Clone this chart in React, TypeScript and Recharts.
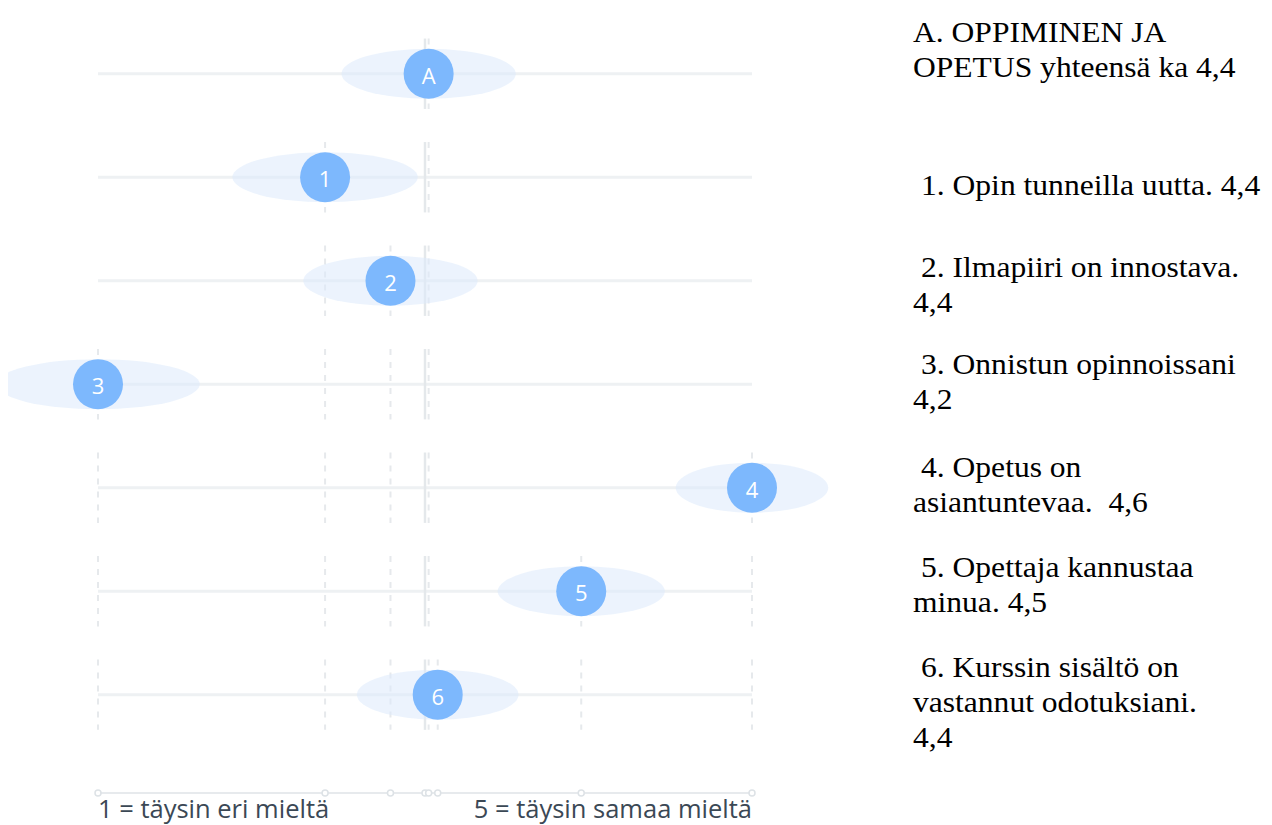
import { ScatterChart, Scatter, XAxis, YAxis, ReferenceLine } from 'recharts';

// Items from top to bottom: overall A, then statements 1–6
const itemLabels = ['A', '1', '2', '3', '4', '5', '6'];
const itemScores = [4.422, 4.365, 4.401, 4.24, 4.6, 4.506, 4.427];
const itemSpreads = [0.048, 0.051, 0.048, 0.056, 0.042, 0.046, 0.0445];
const overallMean = 4.42;
const scaleMin = 4.24;
const scaleMax = 4.6;
const minLabel = '1 = täysin eri mieltä';
const maxLabel = '5 = täysin samaa mieltä';

const descriptions = [
  ['A. OPPIMINEN JA', 'OPETUS yhteensä ka 4,4'],
  ['1. Opin tunneilla uutta. 4,4'],
  ['2. Ilmapiiri on innostava.', '4,4'],
  ['3. Onnistun opinnoissani', '4,2'],
  ['4. Opetus on', 'asiantuntevaa.  4,6'],
  ['5. Opettaja kannustaa', 'minua. 4,5'],
  ['6. Kurssin sisältö on', 'vastannut odotuksiani.', '4,4'],
];

const CHART_W = 860;
const CHART_H = 817;
const MARGIN = { top: 14, right: 116, bottom: 2, left: 90 };
const PX_PER_UNIT = (CHART_W - MARGIN.left - MARGIN.right) / (scaleMax - scaleMin);
const ROW_HALF = 0.34;

const points = itemLabels.map((label, i) => ({
  x: itemScores[i],
  y: i,
  label,
  spread: itemSpreads[i],
}));

const axisTicks = [...itemScores, overallMean].sort((a, b) => a - b);

// first-line baselines of the description blocks
const blockTops = [34, 187, 269, 366, 469, 569, 669];
const LINE_H = 35;

const Marker = (props: any) => {
  const { cx, cy, payload } = props;
  return (
    <g>
      <ellipse cx={cx} cy={cy} rx={payload.spread * PX_PER_UNIT} ry={25} fill="#dce9fb" fillOpacity={0.55} />
      <circle cx={cx} cy={cy} r={25} fill="#7db8fd" />
      <text
        x={cx}
        y={cy + 1}
        textAnchor="middle"
        dominantBaseline="central"
        fill="#ffffff"
        fontSize={22}
        fontFamily="'Open Sans', sans-serif"
      >
        {payload.label}
      </text>
    </g>
  );
};

const AxisTick = (props: any) => {
  const { x, y, payload } = props;
  const v = payload.value;
  const textStyle = { fontSize: 25.5, fontFamily: "'Open Sans', sans-serif", fill: '#3b4855' };
  return (
    <g>
      <circle cx={x} cy={y} r={3} fill="#ffffff" stroke="#dde2e6" strokeWidth={1.5} />
      {v === scaleMin && (
        <text x={x} y={y + 25} textAnchor="start" {...textStyle}>
          {minLabel}
        </text>
      )}
      {v === scaleMax && (
        <text x={x} y={y + 25} textAnchor="end" {...textStyle}>
          {maxLabel}
        </text>
      )}
    </g>
  );
};

export default function App() {
  return (
    <div style={{ position: 'relative', width: 1264, height: 817 }}>
      <ScatterChart width={CHART_W} height={CHART_H} margin={MARGIN}>
        <XAxis
          type="number"
          dataKey="x"
          domain={[scaleMin, scaleMax]}
          ticks={axisTicks}
          interval={0}
          tick={<AxisTick />}
          tickLine={false}
          tickSize={0}
          tickMargin={0}
          height={30}
          axisLine={{ stroke: '#e7eaed', strokeWidth: 2 }}
        />
        <YAxis type="number" dataKey="y" domain={[-0.5, 6.95]} reversed hide />

        {itemLabels.map((_, row) => (
          <ReferenceLine key={`h-${row}`} y={row} stroke="#eef1f3" strokeWidth={3} ifOverflow="visible" />
        ))}

        {itemLabels.map((_, row) => (
          <ReferenceLine
            key={`m-${row}`}
            segment={[
              { x: overallMean, y: row - ROW_HALF },
              { x: overallMean, y: row + ROW_HALF },
            ]}
            stroke="#e4e8eb"
            strokeWidth={2.5}
            ifOverflow="visible"
          />
        ))}

        {itemLabels.flatMap((_, row) =>
          itemScores.slice(0, row + 1).map((v, k) => (
            <ReferenceLine
              key={`d-${row}-${k}`}
              segment={[
                { x: v, y: row - ROW_HALF },
                { x: v, y: row + ROW_HALF },
              ]}
              stroke="#e6e9ec"
              strokeWidth={2}
              strokeDasharray="6 7"
              ifOverflow="visible"
            />
          ))
        )}

        <Scatter data={points} shape={<Marker />} isAnimationActive={false} />
      </ScatterChart>

      <svg
        width={1264}
        height={817}
        style={{ position: 'absolute', left: 0, top: 0, pointerEvents: 'none' }}
      >
        {descriptions.map((lines, b) =>
          lines.map((line, li) => {
            const indent = b > 0 && li === 0 ? 913 : 905;
            return (
              <text
                key={`t-${b}-${li}`}
                transform={`translate(${indent}, ${blockTops[b] + li * LINE_H}) scale(1.1, 1)`}
                fontSize={28.7}
                fontFamily="'Liberation Serif', 'Times New Roman', serif"
                fill="#000000"
                style={{ whiteSpace: 'pre' }}
              >
                {line}
              </text>
            );
          })
        )}
      </svg>
    </div>
  );
}
